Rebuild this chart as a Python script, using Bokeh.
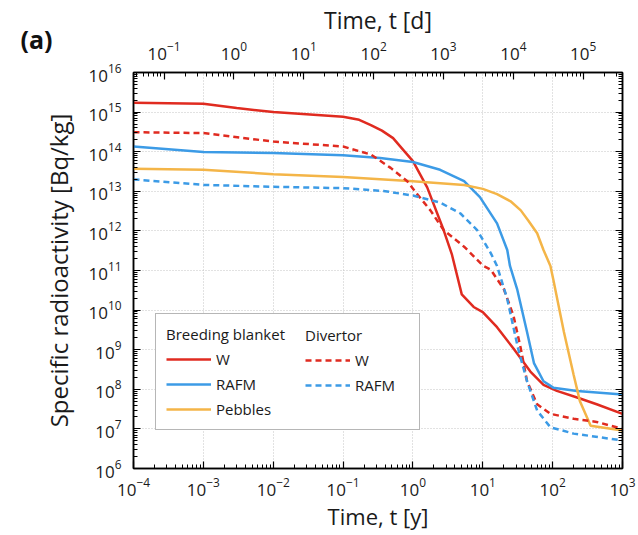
from bokeh.plotting import figure
from bokeh.models import (LogScale, LogAxis, Range1d, FixedTicker, Legend, LegendItem,
                          Label, CustomJSTickFormatter)
from bokeh.embed import file_html
from bokeh.resources import INLINE

# ---------------- data (time in years, activity in Bq/kg) ----------------
t_bb_w = [1e-4, 1e-3, 3e-3, 1e-2, 1e-1, 0.17, 0.25, 0.36, 0.52, 0.7, 1.0, 1.6, 2.75, 3.6,
          5.0, 7.4, 10, 16, 27.5, 48, 74, 115, 224, 427, 1000]
a_bb_w = [1.72e15, 1.62e15, 1.27e15, 1.0e15, 7.6e14, 6.4e14, 4.7e14, 3.4e14, 2.2e14,
          1.2e14, 5.8e13, 1.26e13, 1.05e12, 2.6e11, 2.5e10, 1.2e10, 8.9e9, 3.7e9, 1.07e9,
          2.8e8, 1.3e8, 9.1e7, 6.2e7, 4.2e7, 2.4e7]

t_bb_rafm = [1e-4, 1e-3, 1e-2, 1e-1, 0.34, 1.0, 2.45, 5.4, 9.1, 16, 22.4, 24.5, 31, 43,
             54, 74, 102, 224, 1000]
a_bb_rafm = [1.35e14, 9.8e13, 9.3e13, 8.1e13, 6.9e13, 5.5e13, 3.5e13, 1.8e13, 7.1e12,
             1.55e12, 3.3e11, 1.3e11, 3.4e10, 2.8e9, 4.6e8, 1.6e8, 1.1e8, 9.1e7, 7.4e7]

t_bb_peb = [1e-4, 1e-3, 1e-2, 1e-1, 1.0, 5.4, 10, 16, 25, 35, 45, 60, 74, 93, 102, 145,
            200, 245, 350, 1000]
a_bb_peb = [3.7e13, 3.5e13, 2.7e13, 2.3e13, 1.8e13, 1.45e13, 1.15e13, 8.5e12, 5.6e12,
            3.3e12, 1.8e12, 8.7e11, 3.3e11, 1.3e11, 6e10, 2.8e9, 2.3e8, 5.1e7, 1.2e7,
            9.1e6]

t_dv_w = [1e-4, 1e-3, 1e-2, 1e-1, 0.25, 0.48, 0.83, 1.15, 1.78, 2.75, 5.4, 10.2, 13,
          20, 27.5, 35, 43, 60, 93, 200, 427, 1000]
a_dv_w = [3.1e14, 2.95e14, 1.8e14, 1.35e14, 8.5e13, 3.9e13, 1.8e13, 8.5e12, 3.3e12,
          1.05e12, 4e11, 1.3e11, 1.05e11, 3.4e10, 7.2e9, 1.07e9, 1.6e8, 4.2e7, 2.4e7,
          1.8e7, 1.5e7, 1.0e7]

t_dv_rafm = [1e-4, 1e-3, 1e-2, 1e-1, 0.38, 1.0, 2.45, 4.8, 8.3, 13, 16, 22.4, 32, 43,
             60, 93, 200, 1000]
a_dv_rafm = [2.0e13, 1.45e13, 1.3e13, 1.2e13, 1.02e13, 7.8e12, 5.2e12, 2.75e12, 1.05e12,
             2.75e11, 1.3e11, 1.9e10, 1.07e9, 1.6e8, 2.9e7, 1.1e7, 7.6e6, 5.1e6]

years_to_days = 365.25
x_major = [10.0 ** k for k in range(-4, 4)]
y_major = [10.0 ** k for k in range(6, 17)]
d_major = [10.0 ** k for k in range(-1, 6)]

RED = "#e02b20"
BLUE = "#3c9be6"
ORANGE = "#f4b548"
FONT = "Open Sans"


def minor_ticks(lo_exp, hi_exp, lo, hi):
    out = []
    for e in range(lo_exp, hi_exp + 1):
        for k in range(2, 10):
            v = k * 10.0 ** e
            if lo <= v <= hi:
                out.append(v)
    return out


p = figure(width=636, height=533, x_axis_type="log", y_axis_type="log",
           x_range=Range1d(1e-4, 1e3), y_range=Range1d(1e6, 1e16),
           output_backend="svg", toolbar_location=None,
           min_border_left=133, min_border_right=14, min_border_top=70,
           min_border_bottom=61)

p.outline_line_color = "black"
p.outline_line_width = 1.5
p.outline_line_alpha = 1.0

xt = FixedTicker(ticks=x_major, minor_ticks=minor_ticks(-4, 2, 1e-4, 1e3))
yt = FixedTicker(ticks=y_major, minor_ticks=minor_ticks(6, 15, 1e6, 1e16))


def style_axis(ax, standoff=8):
    ax.axis_line_color = "black"
    ax.axis_line_width = 1.5
    ax.major_tick_in = 7
    ax.major_tick_out = 0
    ax.minor_tick_in = 4
    ax.minor_tick_out = 0
    ax.major_tick_line_color = "black"
    ax.minor_tick_line_color = "black"
    ax.major_tick_line_width = 1.2
    ax.minor_tick_line_width = 1
    ax.major_label_text_font = FONT
    ax.major_label_text_font_size = "17px"
    ax.major_label_text_color = "#1a1a1a"
    ax.major_label_standoff = standoff
    ax.axis_label_text_font = FONT
    ax.axis_label_text_font_style = "normal"
    ax.axis_label_text_color = "#1a1a1a"


bx = p.xaxis[0]
bx.ticker = xt
style_axis(bx, 9)
bx.axis_label = "Time, t [y]"
bx.axis_label_text_font_size = "22px"
bx.axis_label_standoff = 2

ly = p.yaxis[0]
ly.ticker = yt
style_axis(ly, 12)
ly.axis_label = "Specific radioactivity [Bq/kg]"
ly.axis_label_text_font_size = "24px"
ly.axis_label_standoff = 10

p.xgrid.ticker = xt
p.ygrid.ticker = yt
for g in (p.xgrid, p.ygrid):
    g.grid_line_color = "#c4c4c4"
    g.grid_line_dash = "1 2"
    g.grid_line_width = 1

# top axis in days
p.extra_x_ranges = {"days": Range1d(1e-4 * years_to_days, 1e3 * years_to_days)}
p.extra_x_scales = {"days": LogScale()}
top = LogAxis(x_range_name="days",
              ticker=FixedTicker(ticks=d_major,
                                 minor_ticks=minor_ticks(-2, 5, 1e-4 * years_to_days,
                                                         1e3 * years_to_days)))
style_axis(top, 13)
top.axis_label = "Time, t [d]"
top.axis_label_text_font_size = "23px"
top.axis_label_standoff = 3
p.add_layout(top, "above")

right = LogAxis(ticker=yt, formatter=CustomJSTickFormatter(code="return ''"))
style_axis(right)
right.major_label_standoff = 0
p.add_layout(right, "right")

# curves
r_bb_w = p.line(t_bb_w, a_bb_w, line_color=RED, line_width=2.5)
r_bb_rafm = p.line(t_bb_rafm, a_bb_rafm, line_color=BLUE, line_width=2.5)
r_bb_peb = p.line(t_bb_peb, a_bb_peb, line_color=ORANGE, line_width=2.5)
r_dv_w = p.line(t_dv_w, a_dv_w, line_color=RED, line_width=2.5, line_dash="6 4")
r_dv_rafm = p.line(t_dv_rafm, a_dv_rafm, line_color=BLUE, line_width=2.5, line_dash="6 4")


def style_legend(lg):
    lg.label_text_font = FONT
    lg.label_text_font_size = "15px"
    lg.label_text_color = "#1a1a1a"
    lg.title_text_font = FONT
    lg.title_text_font_size = "15px"
    lg.title_text_font_style = "normal"
    lg.title_text_color = "#1a1a1a"
    lg.title_standoff = 5
    lg.glyph_width = 45
    lg.glyph_height = 20
    lg.label_height = 20
    lg.spacing = 5
    lg.label_standoff = 5
    lg.padding = 10
    lg.margin = 0


legA = Legend(items=[LegendItem(label="W", renderers=[r_bb_w]),
                     LegendItem(label="RAFM", renderers=[r_bb_rafm]),
                     LegendItem(label="Pebbles", renderers=[r_bb_peb])],
              title="Breeding blanket", location=(22, 38))
style_legend(legA)
legA.label_width = 193
legA.border_line_color = "#6e6e6e"
legA.border_line_width = 1
legA.background_fill_color = "white"
legA.background_fill_alpha = 1.0

legB = Legend(items=[LegendItem(label="W", renderers=[r_dv_w]),
                     LegendItem(label="RAFM", renderers=[r_dv_rafm])],
              title="Divertor", location=(162, 63))
style_legend(legB)
legB.border_line_alpha = 0
legB.background_fill_alpha = 0

p.add_layout(legA)
p.add_layout(legB)

# panel label "(a)" in the outer left side panel (not clipped by the frame)
p.add_layout(Label(x=13, y=430, x_units="screen", y_units="screen", text="(a)",
                   text_font=FONT, text_font_size="25px", text_font_style="bold",
                   text_color="#111111", text_baseline="alphabetic"), "left")

open("out.html", "w").write(file_html(p, INLINE))
